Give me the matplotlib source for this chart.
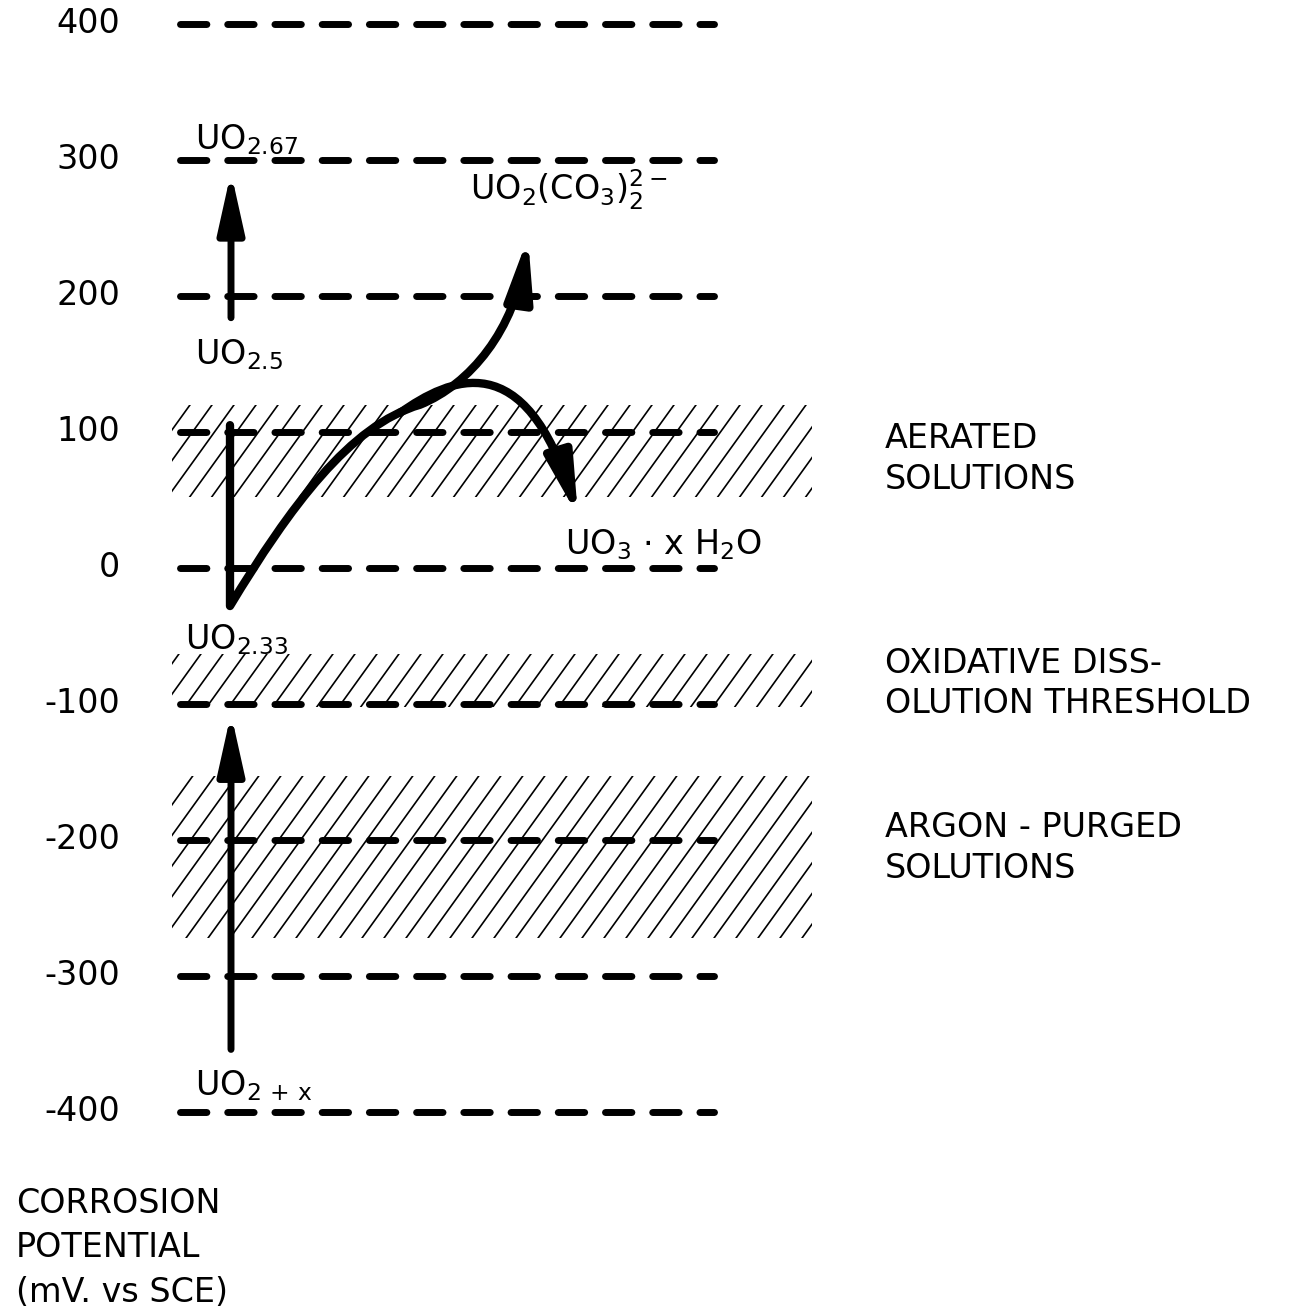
import numpy as np
import matplotlib.pyplot as plt
from matplotlib.patches import FancyArrowPatch, Rectangle
from matplotlib.path import Path

# potential levels (mV vs SCE)
levels = [400, 300, 200, 100, 0, -100, -200, -300, -400]
level_labels = ['400', '300', '200', '100', '0', '-100', '-200', '-300', '-400']

# hatched potential ranges
band_lo = [52, -102, -272]
band_hi = [120, -63, -153]
band_text = ['AERATED\nSOLUTIONS', 'OXIDATIVE DISS-\nOLUTION THRESHOLD', 'ARGON - PURGED\nSOLUTIONS']
band_text_mv = [80, -85, -206]

# oxide phases and where they sit
phase_text = [r'UO$_{2.67}$', r'UO$_{2.5}$', r'UO$_{2.33}$', r'UO$_{2\,+\,\mathrm{x}}$',
              r'UO$_2$(CO$_3$)$_2^{2-}$', r'UO$_3$ $\cdot$ x H$_2$O']
phase_mv = [315, 157, -53, -381, 278, 17]

# vertical transitions (start, end) in mV
step_from = [-354, 184]
step_to = [-107, 291]

# curved reaction paths: bezier control points (x, mV)
path_dissolve = [(230, 105), (230, -28), (290, 45), (350, 105), (420, 120),
                 (470, 135), (515, 175), (528, 243)]
path_hydrate = [(400, 114), (450, 140), (525, 165), (578, 38)]

fig = plt.figure(figsize=(12.92, 13.10), dpi=100)
ax = fig.add_axes([0, 0, 1, 1])
ax.set_xlim(0, 1292)
ax.set_ylim(-545.6, 417.6)
ax.axis('off')

FS = 24
PX = 1310 / (417.6 + 545.6)  # px per mV

# dashed levels + labels
for mv, lab in zip(levels, level_labels):
    ax.plot([180, 714], [mv, mv], color='k', lw=5, dashes=(3.8, 3.0),
            dash_capstyle='round', zorder=3)
    ax.text(120, mv, lab, ha='right', va='center', fontsize=FS)

# hatched bands, steep diagonal lines clipped to the band
x0, x1 = 172, 812
for lo, hi in zip(band_lo, band_hi):
    clip = Rectangle((x0, lo), x1 - x0, hi - lo, transform=ax.transData,
                     fill=False, lw=0)
    ax.add_patch(clip)
    hpx = (hi - lo) * PX
    for xs in np.arange(x0 - hpx, x1 + 5, 22):
        ln, = ax.plot([xs, xs + 0.72 * hpx], [lo, hi], color='k', lw=1.2, zorder=2)
        ln.set_clip_path(clip)

for txt, mv in zip(band_text, band_text_mv):
    ax.text(885, mv, txt, ha='left', va='center', fontsize=FS, linespacing=1.3)

# phase labels
phase_x = [195, 195, 185, 195, 470, 565]
for txt, mv, xx in zip(phase_text, phase_mv, phase_x):
    ax.text(xx, mv, txt, ha='left', va='center', fontsize=FS)

# vertical arrows
for a, b in zip(step_from, step_to):
    ax.add_patch(FancyArrowPatch((231, a), (231, b),
                                 arrowstyle='-|>,head_length=0.9,head_width=0.2',
                                 mutation_scale=40, lw=5, color='k', zorder=4,
                                 shrinkA=0, shrinkB=0))

# curved paths
codes = [Path.MOVETO, Path.LINETO, Path.CURVE4, Path.CURVE4, Path.CURVE4,
         Path.CURVE4, Path.CURVE4, Path.CURVE4]
ax.add_patch(FancyArrowPatch(path=Path(path_dissolve, codes),
                             arrowstyle='-|>,head_length=0.9,head_width=0.2',
                             mutation_scale=40, lw=6, color='k', zorder=4,
                             joinstyle='round', capstyle='round'))
codes2 = [Path.MOVETO, Path.CURVE4, Path.CURVE4, Path.CURVE4]
ax.add_patch(FancyArrowPatch(path=Path(path_hydrate, codes2),
                             arrowstyle='-|>,head_length=0.9,head_width=0.2',
                             mutation_scale=40, lw=6, color='k', zorder=4,
                             capstyle='round'))

ax.text(16, -500, 'CORROSION\nPOTENTIAL\n(mV. vs SCE)', ha='left', va='center',
        fontsize=FS, linespacing=1.45)

fig.savefig('out.png', dpi=100, facecolor='white')
